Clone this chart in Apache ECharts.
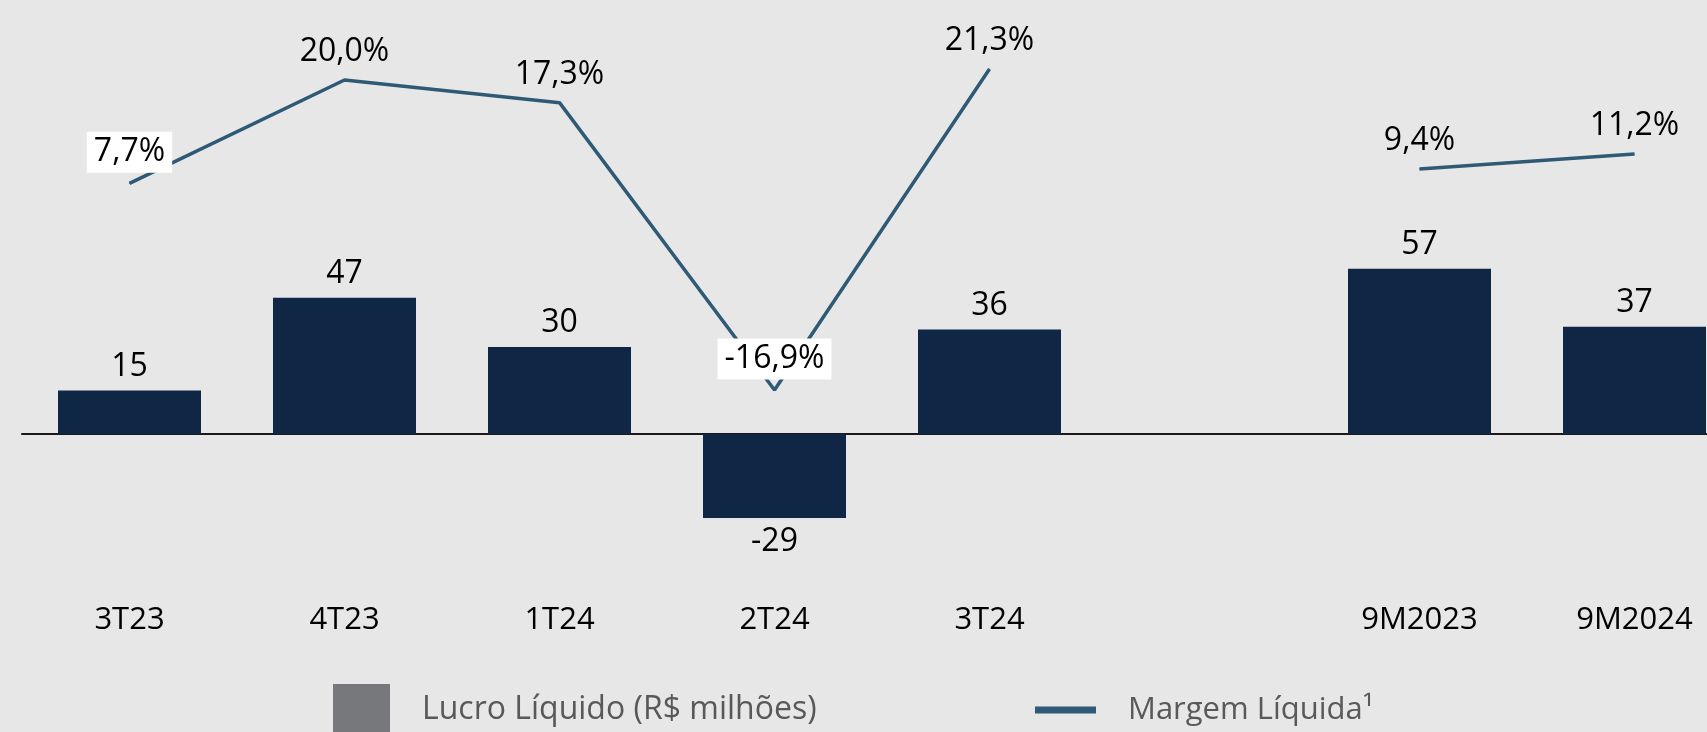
<!DOCTYPE html>
<html>
<head>
<meta charset="utf-8">
<script src="https://cdn.jsdelivr.net/npm/echarts@6/dist/echarts.min.js"></script>
<style>
html,body{margin:0;padding:0;background:#e7e7e7;}
#chart{width:1707px;height:732px;}
</style>
</head>
<body>
<div id="chart"></div>
<script>
const categories = ['3T23','4T23','1T24','2T24','3T24','','9M2023','9M2024'];
const lucroLiquido = [15, 47, 30, -29, 36, null, 57, 37];
const margemLiquida = [7.7, 20.0, 17.3, -16.9, 21.3, null, 9.4, 11.2];
const boxedMarginLabels = ['3T23', '2T24'];
const barName = 'Lucro Líquido (R$ milhões)';
const lineName = 'Margem Líquida¹';

const FONT = '"Open Sans", sans-serif';
const FS = 32;
const LINE_COLOR = '#2f5a76';

const barData = lucroLiquido.map(v => v == null ? null : {
  value: v,
  label: { position: v < 0 ? 'bottom' : 'top' }
});
const lineData = margemLiquida.map((v, i) => {
  if (v == null) return null;
  const boxed = boxedMarginLabels.includes(categories[i]);
  return {
    value: v,
    label: boxed ? { backgroundColor: '#ffffff', padding: [0, 7], distance: 10 } : { distance: 7 }
  };
});

const chart = echarts.init(document.getElementById('chart'));
chart.setOption({
  backgroundColor: '#e7e7e7',
  animation: false,
  grid: { left: 22, top: 30, width: 1720, height: 560, containLabel: false, outerBoundsMode: 'none' },
  xAxis: [
    {
      type: 'category',
      data: categories,
      axisLine: { show: true, onZero: true, lineStyle: { color: '#1a1a1a', width: 2 } },
      axisTick: { show: false },
      axisLabel: { show: false },
      splitLine: { show: false }
    },
    {
      type: 'category',
      data: categories,
      position: 'bottom',
      axisLine: { show: false, onZero: false },
      axisTick: { show: false },
      axisLabel: { show: true, margin: 11, color: '#000', fontFamily: FONT, fontSize: 31, lineHeight: 38, interval: 0 },
      splitLine: { show: false }
    }
  ],
  yAxis: [
    { type: 'value', min: -53.8, max: 139.31, show: false, splitLine: { show: false } },
    { type: 'value', min: -40.71, max: 25.95, show: false, splitLine: { show: false } }
  ],
  legend: [
    {
      left: 333, top: 684, padding: 0,
      itemWidth: 57, itemHeight: 52, icon: 'rect',
      data: [{ name: barName, itemStyle: { color: '#77787b' } }],
      textStyle: { color: '#595959', fontFamily: FONT, fontSize: 32, lineHeight: 38, padding: [0, 0, 0, 27] }
    },
    {
      left: 1035, top: 691, padding: 0,
      itemWidth: 61, itemHeight: 7, icon: 'rect',
      data: [{ name: lineName }],
      textStyle: { color: '#595959', fontFamily: FONT, fontSize: 31, lineHeight: 38, padding: [0, 0, 0, 27] }
    }
  ],
  series: [
    {
      name: barName,
      type: 'bar',
      data: barData,
      barWidth: 143,
      xAxisIndex: 0,
      yAxisIndex: 0,
      itemStyle: { color: '#0f2744' },
      label: {
        show: true, distance: 5, color: '#000', fontFamily: FONT, fontSize: FS, lineHeight: 38
      }
    },
    {
      name: lineName,
      type: 'line',
      data: lineData,
      xAxisIndex: 0,
      yAxisIndex: 1,
      symbol: 'circle',
      symbolSize: 1,
      showSymbol: true,
      connectNulls: false,
      color: LINE_COLOR,
      itemStyle: { color: LINE_COLOR },
      lineStyle: { color: LINE_COLOR, width: 3.5 },
      label: {
        show: true, position: 'top', distance: 7, color: '#000', fontFamily: FONT,
        fontSize: FS, lineHeight: 41,
        formatter: p => p.value.toFixed(1).replace('.', ',') + '%'
      },
      z: 3
    }
  ]
});
</script>
</body>
</html>
